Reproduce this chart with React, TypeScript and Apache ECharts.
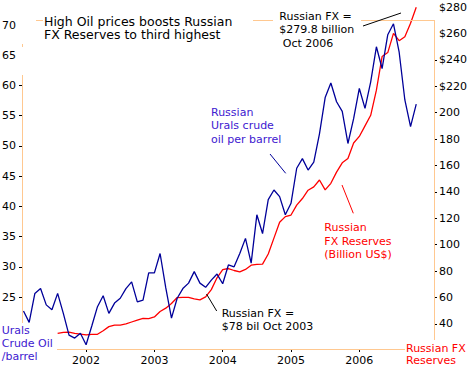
import React, { useEffect, useRef } from "react";
import * as echarts from "echarts";

// ---------- data ----------
const START_YEAR = 2001;
const yearLabels = [2002, 2003, 2004, 2005, 2006];
const leftLabelValues = [25, 30, 35, 40, 45, 50, 55, 60, 65, 70];
const leftTickValues = [25, 30, 35, 40, 45, 50, 55, 60];
const rightLabelValues = [40, 60, 80, 100, 120, 140, 160, 180, 200, 220, 240, 260, 280];
const rightTickValues = [40, 60, 80, 100, 120, 140, 160, 180, 200, 220, 240];

// Urals crude, US$/barrel, monthly from Feb 2001
const oilStart = "2001-02";
const oilPrice = [
  22.7, 20.8, 25.6, 26.4, 23.7, 22.9, 25.6, 22.3, 18.7, 18.2, 19.0,
  17.1, 20.2, 23.4, 25.2, 22.3, 24.0, 24.8, 26.4, 27.5, 24.2, 24.5, 29.0,
  29.0, 32.2, 26.5, 21.5, 24.8, 26.4, 27.3, 29.2, 27.3, 26.6, 27.8, 28.8,
  27.2, 30.3, 30.0, 32.2, 34.7, 30.6, 38.6, 35.5, 41.1, 42.7, 41.6, 38.6,
  40.5, 46.3, 47.9, 46.0, 47.3, 52.0, 58.0, 60.4, 57.3, 55.7, 50.4, 54.5,
  59.5, 56.2, 60.6, 66.4, 62.8, 68.4, 70.2, 65.5, 57.6, 53.2, 56.9,
];

// Russian FX reserves, billion US$, monthly from Aug 2001
const fxStart = "2001-08";
const fxReserves = [
  32.9, 33.7, 33.9, 32.9, 32.4,
  31.7, 32.2, 32.2, 34.9, 38.0, 39.2, 39.2, 40.0, 41.5, 43.0, 44.3, 44.0,
  45.3, 49.5, 52.0, 55.5, 60.0, 60.2, 60.2, 59.0, 58.3, 60.5, 66.0, 75.0,
  81.2, 82.0, 80.5, 79.5, 81.3, 84.5, 85.2, 85.3, 93.0, 105.0, 117.0, 121.3,
  122.5, 130.0, 135.0, 141.3, 143.8, 149.0, 141.5, 146.5, 155.0, 162.0, 165.3,
  177.0, 182.0, 190.0, 198.0, 217.0, 242.5, 245.5, 260.0, 254.5, 257.5, 267.7, 279.8,
];

// ---------- helpers ----------
function monthIndex(label: string): number {
  const [y, m] = label.split("-").map(Number);
  return (y - START_YEAR) * 12 + (m - 1);
}
function monthLabels(start: string, n: number): string[] {
  const s = monthIndex(start);
  const out: string[] = [];
  for (let i = 0; i < n; i++) {
    const k = s + i;
    const y = START_YEAR + Math.floor(k / 12);
    const m = (k % 12) + 1;
    out.push(`${y}-${m < 10 ? "0" + m : m}`);
  }
  return out;
}
const oilMonths = monthLabels(oilStart, oilPrice.length);
const fxMonths = monthLabels(fxStart, fxReserves.length);

const FONT = '"DejaVu Sans", Verdana, sans-serif';
const FRAME = "#FFC890";
const NAVY = "#000099";
const PURPLE = "#4020D0";
const RED = "#FF0000";

function frameLine(x1: number, y1: number, x2: number, y2: number, color = FRAME) {
  return {
    type: "line",
    silent: true,
    z: 50,
    shape: { x1, y1, x2, y2 },
    style: { stroke: color, lineWidth: 1 },
  };
}
function label(text: string, x: number, y: number, color: string, size = 11, lh = 13.3) {
  return {
    type: "text",
    z: 60,
    x,
    y,
    style: {
      text,
      fill: color,
      fontSize: size,
      fontFamily: FONT,
      lineHeight: lh,
      align: "left",
      verticalAlign: "top",
    },
  };
}

export default function App() {
  const ref = useRef<HTMLDivElement>(null);
  useEffect(() => {
    const chart = echarts.init(ref.current!, null, { renderer: "svg", width: 475, height: 380 });
    const option: any = {
      animation: false,
      backgroundColor: "#fff",
      textStyle: { fontFamily: FONT },
      grid: { left: 22, right: 41, top: 7, bottom: 31, containLabel: false, outerBoundsMode: "none" },
      xAxis: {
        type: "value",
        min: 0.74,
        max: 73.12,
        axisLine: { show: false },
        splitLine: { show: false },
        axisTick: {
          show: true,
          inside: false,
          length: 3,
          lineStyle: { color: "#000" },
          customValues: yearLabels.map((y) => (y - START_YEAR) * 12),
        },
        axisLabel: {
          customValues: yearLabels.map((y) => (y - START_YEAR) * 12),
          formatter: (v: number) => String(START_YEAR + Math.round(v / 12)),
          color: "#000",
          fontSize: 11,
          fontFamily: FONT,
          margin: 6,
        },
      },
      yAxis: [
        {
          type: "value",
          position: "left",
          min: 16.4,
          max: 72.98,
          axisLine: { show: false },
          splitLine: { show: false },
          axisTick: {
            show: true,
            inside: false,
            length: 3,
            lineStyle: { color: "#000" },
            customValues: leftTickValues,
          },
          axisLabel: {
            customValues: leftLabelValues,
            color: "#000",
            fontSize: 11,
            fontFamily: FONT,
            margin: 6,
          },
        },
        {
          type: "value",
          position: "right",
          min: 21.06,
          max: 280,
          axisLine: { show: false },
          splitLine: { show: false },
          axisTick: {
            show: true,
            inside: false,
            length: 3,
            lineStyle: { color: "#000" },
            customValues: rightTickValues,
          },
          axisLabel: {
            customValues: rightLabelValues,
            formatter: (v: number) => (v >= 220 ? "$" + v : String(v)),
            color: "#000",
            fontSize: 11,
            fontFamily: FONT,
            margin: 5,
          },
        },
      ],
      series: [
        {
          name: "Urals crude",
          type: "line",
          yAxisIndex: 0,
          showSymbol: false,
          symbol: "none",
          lineStyle: { color: NAVY, width: 1.3 },
          data: oilMonths.map((m, i) => [monthIndex(m), oilPrice[i]]),
          z: 3,
        },
        {
          name: "FX reserves",
          type: "line",
          yAxisIndex: 1,
          showSymbol: false,
          symbol: "none",
          lineStyle: { color: RED, width: 1.3 },
          data: fxMonths.map((m, i) => [monthIndex(m), fxReserves[i]]),
          z: 2,
        },
      ],
      graphic: [
        // frame (partially hidden behind labels as in the original)
        frameLine(22.5, 75, 22.5, 323),
        frameLine(22.5, 44, 22.5, 47),
        frameLine(36, 20.5, 43, 20.5),
        frameLine(253, 20.5, 273, 20.5),
        frameLine(361, 20.5, 434.5, 20.5),
        frameLine(434.5, 20, 434.5, 340),
        frameLine(57, 349.5, 405, 349.5),
        // pointers
        frameLine(363, 26, 401, 13, "#000"),
        frameLine(270, 154, 285.7, 173.3, NAVY),
        frameLine(342, 185, 353.3, 213.3, RED),
        frameLine(206.5, 294, 216.7, 311, "#000"),
        // texts
        label("High Oil prices boosts Russian\nFX Reserves to third highest", 44, 14.3, "#000", 12.5, 13.8),
        label("Russian FX =\n$279.8 billion\n Oct 2006", 279.3, 9.3, "#000", 11, 13.5),
        label("Russian\nUrals crude\noil per barrel", 211, 105.6, PURPLE, 11, 13.4),
        label("Russian\nFX Reserves\n(Billion US$)", 324.3, 221.4, RED, 11, 13.2),
        label("Russian FX =\n$78 bil Oct 2003", 221.7, 306.6, "#000", 11, 13.4),
        label("Urals\nCrude Oil\n/barrel", 1.7, 324.2, PURPLE, 11, 13),
        label("Russian FX\nReserves", 406, 342.1, RED, 11, 12.4),
      ],
    };
    chart.setOption(option);
    return () => chart.dispose();
  }, []);
  return (
    <div
      ref={ref}
      style={{ position: "fixed", left: 0, top: 0, width: 475, height: 380, background: "#fff" }}
    />
  );
}
